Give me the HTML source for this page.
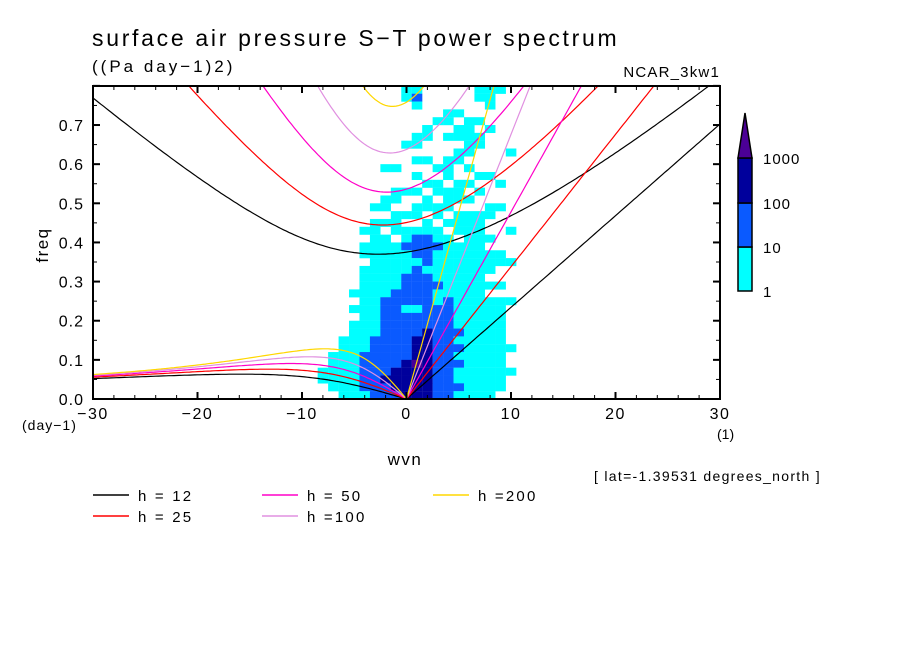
<!DOCTYPE html>
<html><head><meta charset="utf-8"><style>
html,body{margin:0;padding:0;background:#fff;}
svg{display:block;font-family:"Liberation Sans",sans-serif;}
</style></head><body>
<svg id="chart" width="904" height="654" viewBox="0 0 904 654" xmlns="http://www.w3.org/2000/svg">
<defs><clipPath id="plotclip"><rect x="93" y="86" width="627" height="313"/></clipPath></defs>
<text x="92" y="46" font-size="23" letter-spacing="2.7">surface air pressure S−T power spectrum</text>
<text x="92" y="72" font-size="17" letter-spacing="3">((Pa day−1)2)</text>
<text x="720" y="77" font-size="15" letter-spacing="1.2" text-anchor="end">NCAR_3kw1</text>
<g id="shade" clip-path="url(#plotclip)"></g>
<g id="curves" clip-path="url(#plotclip)"></g>
<g id="axes"></g>
<rect x="93" y="86" width="627" height="313" fill="none" stroke="#000" stroke-width="2"/>
<text x="48" y="245" font-size="17" letter-spacing="1.5" text-anchor="middle" transform="rotate(-90 48 245)">freq</text>
<text x="405" y="465" font-size="17" letter-spacing="1.5" text-anchor="middle">wvn</text>
<text x="22" y="430" font-size="14" letter-spacing="1">(day−1)</text>
<text x="717" y="439" font-size="14">(1)</text>
<text x="594" y="481" font-size="14" letter-spacing="1.3">[ lat=-1.39531 degrees_north ]</text>
<g id="colorbar"></g>
<g id="legend"></g>
</svg>
<script>
const NS="http://www.w3.org/2000/svg";
// data
const hValues=[12,25,50,100,200];
const hColors=["#000000","#ff0000","#ff00c8","#e090e0","#ffd700"];
const colWavenumbers=[-9,-8,-7,-6,-5,-4,-3,-2,-1,0,1,2,3,4,5,6,7,8,9,10,11,12];
const rowFreqs=[0.79,0.77,0.75,0.73,0.71,0.69,0.67,0.65,0.63,0.61,0.59,0.57,0.55,0.53,0.51,0.49,0.47,0.45,0.43,0.41,0.39,0.37,0.35,0.33,0.31,0.29,0.27,0.25,0.23,0.21,0.19,0.17,0.15,0.13,0.11,0.09,0.07,0.05,0.03,0.01];
const powerLevels=[
"0000000001100000111000","0000000001200000110000","0000000000100000010000","0000000000000110000000",
"0000000000001101100000","0000000000010011010000","0000000000110111100000","0000000001100001100000",
"0000000000000011000100","0000000000110110000000","0000000110001101000000","0000000000100100110000",
"0000000000011011001000","0000000011101110100000","0000000110010111000000","0000001100111100011000",
"0000000011101011110000","0000001110010111100000","0000011011111011100100","0000001101221101110000",
"0000011112222111100000","0000011111221111111000","0000001111121111111100","0000011111211111110000",
"0000011112221111100000","0000011112222111111000","0000111122221111100000","0000011222221211111100",
"0000111221122211111000","0000011222222211111000","0000111222222211111000","0000111222232221111000",
"0001112222332211111000","0001112222332221111100","0011122222332211111000","0011122223432221111000",
"0111122233332211111100","0111122333332211111000","0011122233332221111000","0001112223332211110000"];
const levelColors=["none","#00ffff","#0a5aff","#00009c","#4b0096"];
const xTicks=[-30,-20,-10,0,10,20,30];
const yTicks=[0,0.1,0.2,0.3,0.4,0.5,0.6,0.7];
const cbLabels=["1","10","100","1000"];

const X=s=>406.5+s*10.45, Y=f=>399-f*391.4;
function mk(tag,attrs,parent){const e=document.createElementNS(NS,tag);for(const k in attrs)e.setAttribute(k,attrs[k]);parent.appendChild(e);return e;}

// shading
const shade=document.getElementById('shade');
powerLevels.forEach((row,ri)=>{for(let ci=0;ci<row.length;ci++){const lv=+row[ci];if(!lv)continue;
 const s=colWavenumbers[ci],f=rowFreqs[ri];
 const r=mk('rect',{x:X(s-0.5),y:Y(f+0.01),width:10.6,height:8,fill:levelColors[lv]},shade);
 
 }});

// dispersion curves
const g=9.81,a=6.371e6,beta=2*7.292e-5/a,toCpd=86400/(2*Math.PI);
function kelvin(c,k){return c*k;}
function ig(c,k,n){let w=Math.sqrt((2*n+1)*beta*c+c*c*k*k);for(let i=0;i<30;i++){w=Math.sqrt(c*c*((2*n+1)*beta/c+k*k+beta*k/w));}return w;}
function rossby(c,k,n){let w=-beta*k/(k*k+(2*n+1)*beta/c);for(let i=0;i<30;i++){w=-beta*k/(k*k+(2*n+1)*beta/c-w*w/(c*c));}return w;}
const curves=document.getElementById('curves');
hValues.forEach((h,hi)=>{const c=Math.sqrt(g*h);
 const sets=[["kelvin",0,30,kelvin],["ig",-30,30,(c,k)=>ig(c,k,1)],["rossby",-30,0,(c,k)=>rossby(c,k,1)]];
 sets.forEach(([nm,s0,s1,fn])=>{let pts=[];for(let s=s0;s<=s1+1e-9;s+=0.25){const k=s/a;const f=fn(c,k)*toCpd;pts.push(X(s).toFixed(1)+","+Y(Math.min(f,1.2)).toFixed(1));}
  const p=mk('polyline',{points:pts.join(" "),fill:"none",stroke:hColors[hi],"stroke-width":1.2},curves);
  
  });});

// axes ticks
const axes=document.getElementById('axes');
for(let s=-30;s<=30;s+=2){const big=s%10===0;const L=big?7:4;
 mk('line',{x1:X(s),y1:399,x2:X(s),y2:399-L,stroke:"#000","stroke-width":big?2:1},axes);
 mk('line',{x1:X(s),y1:86,x2:X(s),y2:86+L,stroke:"#000","stroke-width":big?2:1},axes);}
for(let i=0;i<=16;i++){const f=i*0.05;const big=i%2===0;const L=big?7:4;
 mk('line',{x1:93,y1:Y(f),x2:93+L,y2:Y(f),stroke:"#000","stroke-width":big?2:1},axes);
 mk('line',{x1:720,y1:Y(f),x2:720-L,y2:Y(f),stroke:"#000","stroke-width":big?2:1},axes);}
xTicks.forEach(s=>{const t=mk('text',{x:X(s),y:419,"font-size":16,"letter-spacing":1.5,"text-anchor":"middle"},axes);t.textContent=(s<0?"−":"")+Math.abs(s);
 
 });
yTicks.forEach(f=>{const t=mk('text',{x:84,y:Y(f)+6,"font-size":16,"letter-spacing":1,"text-anchor":"end"},axes);t.textContent=f.toFixed(1);
 
 });

// colorbar
const cb=document.getElementById('colorbar');
const cbY=[291,247,203,158];
for(let i=0;i<3;i++){const r=mk('rect',{x:738,y:cbY[i+1],width:14,height:cbY[i]-cbY[i+1],fill:levelColors[i+1],stroke:"#000","stroke-width":1.5},cb);
 
 }
const tri=mk('polygon',{points:"738,158 752,158 745,113",fill:levelColors[4],stroke:"#000","stroke-width":1.5},cb);


cbLabels.forEach((lb,i)=>{const t=mk('text',{x:763,y:cbY[i]+6,"font-size":15,"letter-spacing":1},cb);t.textContent=lb;
 
 });

// legend
const lg=document.getElementById('legend');
const legPos=[[93,495],[93,516],[262,495],[262,516],[433,495]];
const legText=["h = 12","h = 25","h = 50","h =100","h =200"];
hValues.forEach((h,i)=>{const [x,y]=legPos[i];
 const gE=mk('g',{},lg);
 
 
 mk('line',{x1:x,y1:y,x2:x+36,y2:y,stroke:hColors[i],"stroke-width":1.5},gE);
 const t=mk('text',{x:x+45,y:y+6,"font-size":15,"letter-spacing":2.2},gE);t.textContent=legText[i];});
</script>
</body></html>
